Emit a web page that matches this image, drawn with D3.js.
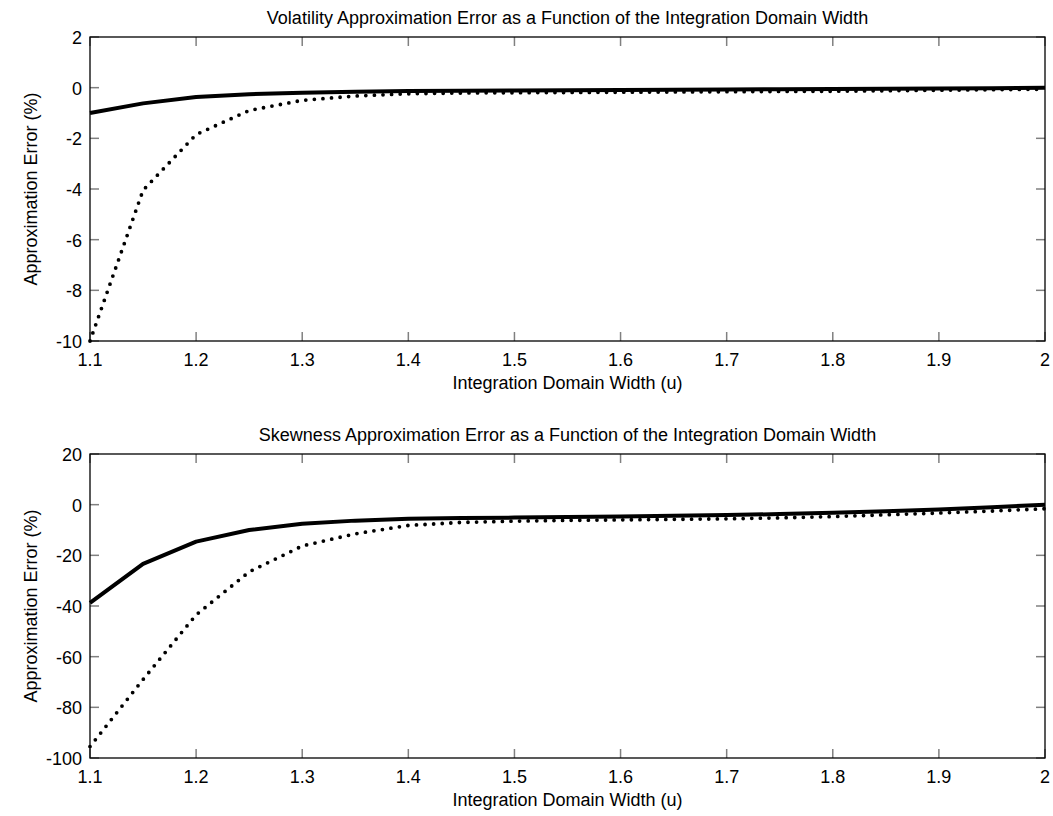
<!DOCTYPE html>
<html>
<head>
<meta charset="utf-8">
<script src="https://cdn.jsdelivr.net/npm/d3@7"></script>
<style>
  body { margin: 0; background: #fff; }
  svg { display: block; font-family: "Liberation Sans", Arial, sans-serif; }
</style>
</head>
<body>
<svg id="chart" width="1053" height="816"></svg>
<script>
const widths = [1.1, 1.15, 1.2, 1.25, 1.3, 1.35, 1.4, 1.45, 1.5, 1.55, 1.6, 1.65, 1.7, 1.75, 1.8, 1.85, 1.9, 1.95, 2.0];

const volSolid = [-1.0, -0.62, -0.37, -0.26, -0.2, -0.16, -0.13, -0.12, -0.11, -0.1, -0.09, -0.08, -0.07, -0.06, -0.05, -0.04, -0.03, -0.02, 0.0];
const volDotted = [-10, -4.05, -1.85, -0.9, -0.5, -0.33, -0.24, -0.21, -0.2, -0.19, -0.18, -0.17, -0.16, -0.15, -0.14, -0.12, -0.1, -0.08, -0.06];

const skewSolid = [-38.8, -23.4, -14.6, -10.0, -7.5, -6.3, -5.6, -5.3, -5.1, -4.9, -4.7, -4.4, -4.1, -3.7, -3.2, -2.6, -1.9, -1.0, 0.0];
const skewDotted = [-95.5, -69, -43.5, -26.5, -16.3, -11.5, -8.2, -7.0, -6.5, -6.2, -6.0, -5.8, -5.6, -5.2, -4.7, -4.0, -3.3, -2.5, -1.6];

const xTicks = [1.1, 1.2, 1.3, 1.4, 1.5, 1.6, 1.7, 1.8, 1.9, 2];
const volYTicks = [-10, -8, -6, -4, -2, 0, 2];
const skewYTicks = [-100, -80, -60, -40, -20, 0, 20];

const panels = [
  { title: "Volatility Approximation Error as a Function of the Integration Domain Width",
    solid: volSolid, dotted: volDotted, yDomain: [-10, 2], yTicks: volYTicks, top: 37 },
  { title: "Skewness Approximation Error as a Function of the Integration Domain Width",
    solid: skewSolid, dotted: skewDotted, yDomain: [-100, 20], yTicks: skewYTicks, top: 454 }
];

const svg = d3.select("#chart");
const left = 90, right = 1045, h = 304;
const x = d3.scaleLinear().domain([1.1, 2]).range([left, right]);
const tickLen = 9;
const tickColor = "#808080";
const fs = 18;

panels.forEach(p => {
  const top = p.top, bottom = top + h;
  const y = d3.scaleLinear().domain(p.yDomain).range([bottom, top]);
  const g = svg.append("g");

  // ticks (inside, mirrored)
  const tg = g.append("g").attr("stroke", tickColor).attr("stroke-width", 1.5);
  xTicks.forEach(t => {
    tg.append("line").attr("x1", x(t)).attr("x2", x(t)).attr("y1", bottom).attr("y2", bottom - tickLen);
    tg.append("line").attr("x1", x(t)).attr("x2", x(t)).attr("y1", top).attr("y2", top + tickLen);
  });
  p.yTicks.forEach(t => {
    tg.append("line").attr("x1", left).attr("x2", left + tickLen).attr("y1", y(t)).attr("y2", y(t));
    tg.append("line").attr("x1", right).attr("x2", right - tickLen).attr("y1", y(t)).attr("y2", y(t));
  });

  // tick labels
  const xf = d => (d === 2 ? "2" : d3.format(".1f")(d));
  g.append("g").selectAll("text").data(xTicks).join("text")
    .attr("x", d => x(d)).attr("y", bottom + 25)
    .attr("text-anchor", "middle").attr("font-size", fs).text(xf);
  g.append("g").selectAll("text").data(p.yTicks).join("text")
    .attr("x", left - 8).attr("y", d => y(d) + 7)
    .attr("text-anchor", "end").attr("font-size", fs).text(d => d);

  // lines
  const line = d3.line().x((d, i) => x(widths[i])).y(d => y(d));
  g.append("path").datum(p.dotted).attr("d", line)
    .attr("fill", "none").attr("stroke", "#000").attr("stroke-width", 3.8)
    .attr("stroke-linecap", "round").attr("stroke-dasharray", "0 8.6");
  g.append("path").datum(p.solid).attr("d", line)
    .attr("fill", "none").attr("stroke", "#000").attr("stroke-width", 4)
    .attr("stroke-linejoin", "round");

  // box
  g.append("rect").attr("x", left).attr("y", top).attr("width", right - left).attr("height", h)
    .attr("fill", "none").attr("stroke", "#000").attr("stroke-width", 1.3);

  // title
  g.append("text").attr("x", (left + right) / 2).attr("y", top - 13)
    .attr("text-anchor", "middle").attr("font-size", fs).text(p.title);
  // x label
  g.append("text").attr("x", (left + right) / 2).attr("y", bottom + 48)
    .attr("text-anchor", "middle").attr("font-size", fs).text("Integration Domain Width (u)");
  // y label
  g.append("text").attr("transform", `translate(37,${(top + bottom) / 2}) rotate(-90)`)
    .attr("text-anchor", "middle").attr("font-size", fs).text("Approximation Error (%)");
});
</script>
</body>
</html>
